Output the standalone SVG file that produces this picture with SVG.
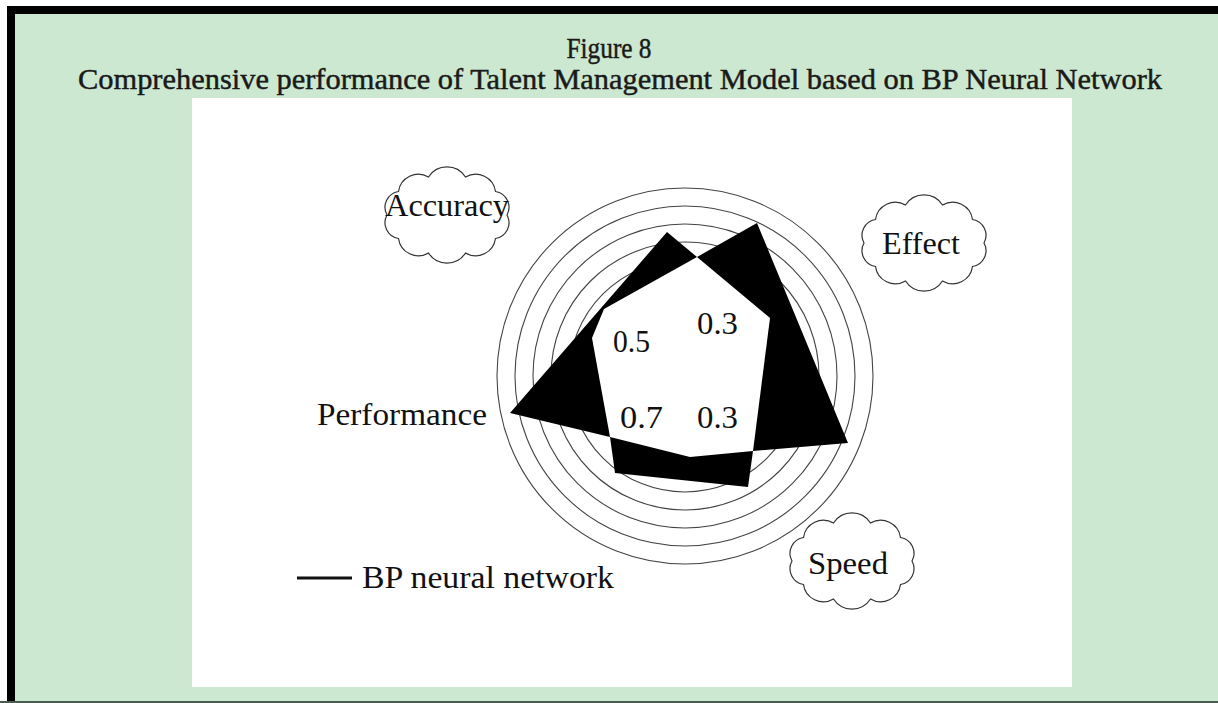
<svg xmlns="http://www.w3.org/2000/svg" xmlns:xlink="http://www.w3.org/1999/xlink" width="1218" height="703" viewBox="0 0 1218 703">
<style>
.title{font-family:"Liberation Serif",serif;font-size:29px;fill:#1a1a1a;stroke:#1a1a1a;stroke-width:0.45;text-anchor:middle}
.lbl{font-family:"Liberation Serif",serif;font-size:31px;fill:#111}
.ring{fill:none;stroke:#444;stroke-width:1.1}
.cloud{fill:#fff;stroke:#333;stroke-width:1.2}
</style>
<defs>
<path id="cloudShape" d="M60,0 A16,16 0 0 1 48.5,23.5 A20,20 0 0 1 18.5,38 A22,22 0 0 1 -18.5,38 A20,20 0 0 1 -48.5,23.5 A16,16 0 0 1 -60,0 A16,16 0 0 1 -48.5,-23.5 A20,20 0 0 1 -18.5,-38 A22,22 0 0 1 18.5,-38 A20,20 0 0 1 48.5,-23.5 A16,16 0 0 1 60,0 Z"/>
</defs>
<rect x="0" y="0" width="1218" height="703" fill="#fff"/>
<rect x="7" y="6" width="1211" height="697" fill="#000"/>
<rect x="15" y="14" width="1203" height="687" fill="#cce8d0"/>
<rect x="0" y="701" width="1218" height="2" fill="#4a5a50"/>
<g id="title">
<text class="title" x="609" y="58" textLength="85" lengthAdjust="spacingAndGlyphs">Figure 8</text>
<text class="title" x="620" y="89" textLength="1084" lengthAdjust="spacingAndGlyphs">Comprehensive performance of Talent Management Model based on BP Neural Network</text>
</g>
<rect x="192" y="98" width="880" height="589" fill="#fff"/>
<g id="rings">
<circle class="ring" cx="685" cy="376" r="188"/>
<circle class="ring" cx="685" cy="376" r="170"/>
<circle class="ring" cx="685" cy="376" r="152"/>
<circle class="ring" cx="685" cy="376" r="134"/>
<circle class="ring" cx="685" cy="376" r="116"/>
</g>
<g id="data">
<polygon fill="#000" points="510,413 667,232 697,257 757,223 848,443 753,451 748,487 615,473 610,437"/>
<polygon fill="#fff" points="697,257 770,318 753,451 690,457 610,437 592,338 604,309"/>
</g>
<g id="values">
<text class="lbl" x="613" y="352" textLength="37" lengthAdjust="spacingAndGlyphs">0.5</text>
<text class="lbl" x="697" y="334" textLength="41" lengthAdjust="spacingAndGlyphs">0.3</text>
<text class="lbl" x="620" y="428" textLength="43" lengthAdjust="spacingAndGlyphs">0.7</text>
<text class="lbl" x="697" y="428" textLength="41" lengthAdjust="spacingAndGlyphs">0.3</text>
</g>
<g id="accuracy">
<use xlink:href="#cloudShape" class="cloud" transform="translate(447,215)"/>
<text class="lbl" x="385" y="216" textLength="124" lengthAdjust="spacingAndGlyphs">Accuracy</text>
</g>
<g id="effect">
<use xlink:href="#cloudShape" class="cloud" transform="translate(924,243)"/>
<text class="lbl" x="882" y="254" textLength="78" lengthAdjust="spacingAndGlyphs">Effect</text>
</g>
<g id="speed">
<use xlink:href="#cloudShape" class="cloud" transform="translate(852,561)"/>
<text class="lbl" x="808" y="574" textLength="80" lengthAdjust="spacingAndGlyphs">Speed</text>
</g>
<g id="performance">
<text class="lbl" x="317" y="425" textLength="170" lengthAdjust="spacingAndGlyphs">Performance</text>
</g>
<g id="legend">
<line x1="297" y1="578" x2="352" y2="578" stroke="#111" stroke-width="3"/>
<text class="lbl" x="362" y="588" textLength="252" lengthAdjust="spacingAndGlyphs">BP neural network</text>
</g>
</svg>
